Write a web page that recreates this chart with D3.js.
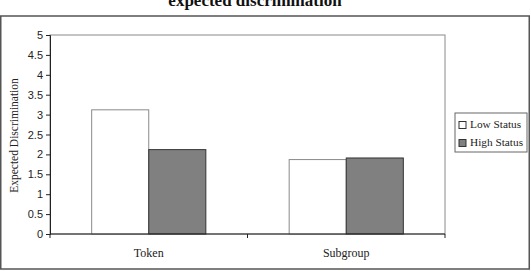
<!DOCTYPE html>
<html>
<head>
<meta charset="utf-8">
<script src="https://cdn.jsdelivr.net/npm/d3@7"></script>
<style>
  body { margin: 0; background: #fff; }
  svg { display: block; }
</style>
</head>
<body>
<div id="graph"></div>
<script>
// Données
const categories = ['Token', 'Subgroup'];
const series = ['Low Status', 'High Status'];
const lowStatus = [3.12, 1.87];
const highStatus = [2.12, 1.91];
const yTicks = [0, 0.5, 1, 1.5, 2, 2.5, 3, 3.5, 4, 4.5, 5];

const tidyData = categories.map((c, i) => ({
  cat: c,
  values: [
    { serie: series[0], value: lowStatus[i] },
    { serie: series[1], value: highStatus[i] }
  ]
}));

// Canevas
const W = 531, H = 271;
const margin = { top: 35, right: 86, bottom: 37, left: 50 };

const svg = d3.select('#graph')
  .append('svg')
  .attr('width', W)
  .attr('height', H);

// Titre (coupé en haut comme dans l'original)
svg.append('text')
  .attr('x', 255)
  .attr('y', 6)
  .attr('text-anchor', 'middle')
  .attr('font-family', '"Liberation Serif", "Times New Roman", serif')
  .attr('font-weight', 'bold')
  .attr('font-size', 17)
  .attr('fill', '#111')
  .text('expected discrimination');

// Cadre extérieur
svg.append('rect')
  .attr('x', 0.75).attr('y', 16)
  .attr('width', 528.5).attr('height', 253)
  .attr('fill', 'none')
  .attr('stroke', '#555')
  .attr('stroke-width', 1.5);

// Échelles
const scaleX = d3.scaleBand()
  .domain(categories)
  .range([margin.left, W - margin.right]);

const scaleSub = d3.scaleBand()
  .domain(series)
  .range([0, scaleX.bandwidth()])
  .paddingOuter(0.73)
  .paddingInner(0);

const scaleY = d3.scaleLinear()
  .domain([0, 5])
  .range([H - margin.bottom, margin.top]);

// Zone du graphique
svg.append('rect')
  .attr('x', margin.left)
  .attr('y', margin.top)
  .attr('width', W - margin.right - margin.left)
  .attr('height', H - margin.bottom - margin.top)
  .attr('fill', 'none')
  .attr('stroke', '#8a8a8a')
  .attr('stroke-width', 1);

// Barres
const paletteCouleurs = {
  'Low Status': { fill: '#ffffff', stroke: '#8a8a8a' },
  'High Status': { fill: '#808080', stroke: '#333333' }
};

svg.append('g')
  .selectAll('g')
  .data(tidyData)
  .join('g')
  .attr('transform', d => `translate(${scaleX(d.cat)},0)`)
  .selectAll('rect')
  .data(d => d.values)
  .join('rect')
  .attr('x', d => scaleSub(d.serie))
  .attr('y', d => scaleY(d.value))
  .attr('width', scaleSub.bandwidth())
  .attr('height', d => scaleY(0) - scaleY(d.value))
  .attr('fill', d => paletteCouleurs[d.serie].fill)
  .attr('stroke', d => paletteCouleurs[d.serie].stroke)
  .attr('stroke-width', 1);

// Axe Y
const axisY = svg.append('g')
  .attr('transform', `translate(${margin.left},0)`)
  .call(d3.axisLeft(scaleY).tickValues(yTicks).tickSize(4).tickPadding(3)
    .tickFormat(d => String(d)));
axisY.select('.domain').attr('stroke', '#222');
axisY.selectAll('.tick line').attr('stroke', '#222');
axisY.selectAll('text')
  .attr('font-family', '"Liberation Sans", Arial, sans-serif')
  .attr('font-size', 11)
  .attr('fill', '#222');

// Axe X
const axisX = svg.append('g')
  .attr('transform', `translate(0,${H - margin.bottom})`);
axisX.append('line')
  .attr('x1', margin.left).attr('x2', W - margin.right)
  .attr('stroke', '#222');
axisX.selectAll('.sep')
  .data([margin.left, ...categories.map(c => scaleX(c) + scaleX.bandwidth())])
  .join('line')
  .attr('class', 'sep')
  .attr('x1', d => d).attr('x2', d => d)
  .attr('y1', 0).attr('y2', 4)
  .attr('stroke', '#222');
axisX.selectAll('text')
  .data(categories)
  .join('text')
  .attr('x', d => scaleX(d) + scaleX.bandwidth() / 2)
  .attr('y', 23)
  .attr('text-anchor', 'middle')
  .attr('font-family', '"Liberation Serif", "Times New Roman", serif')
  .attr('font-size', 12)
  .attr('fill', '#222')
  .text(d => d);

// Titre axe Y
svg.append('text')
  .attr('transform', `translate(15,${(margin.top + H - margin.bottom) / 2 + 1}) rotate(-90)`)
  .attr('text-anchor', 'middle')
  .attr('dominant-baseline', 'middle')
  .attr('font-family', '"Liberation Serif", "Times New Roman", serif')
  .attr('font-size', 11.5)
  .attr('fill', '#222')
  .text('Expected Discrimination');

// Légende
const legend = svg.append('g').attr('transform', 'translate(455,113)');
legend.append('rect')
  .attr('width', 72).attr('height', 39)
  .attr('fill', '#fff')
  .attr('stroke', '#666');
const items = legend.selectAll('g')
  .data(series)
  .join('g')
  .attr('transform', (d, i) => `translate(4,${12 + i * 18})`);
items.append('rect')
  .attr('x', 0).attr('y', -3.5)
  .attr('width', 7).attr('height', 7)
  .attr('fill', d => paletteCouleurs[d].fill)
  .attr('stroke', '#333');
items.append('text')
  .attr('x', 11)
  .attr('y', 0.5)
  .attr('dominant-baseline', 'middle')
  .attr('font-family', '"Liberation Serif", "Times New Roman", serif')
  .attr('font-size', 11.3)
  .attr('fill', '#222')
  .text(d => d);
</script>
</body>
</html>
